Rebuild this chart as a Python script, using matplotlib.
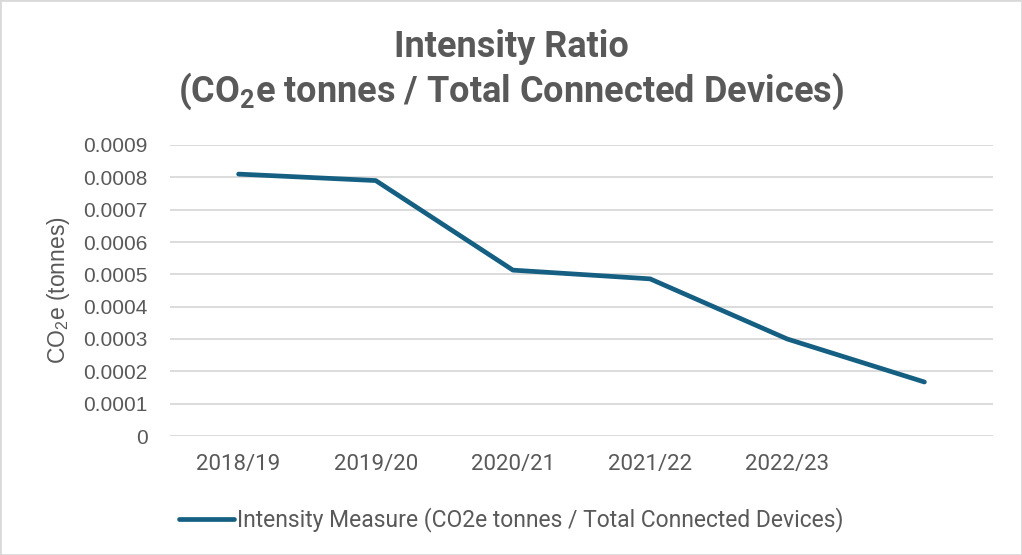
import matplotlib
matplotlib.use('Agg')
import matplotlib.pyplot as plt
from matplotlib.patches import Rectangle

years = ['2018/19', '2019/20', '2020/21', '2021/22', '2022/23', '']
intensity = [0.00081, 0.00079, 0.000513, 0.000486, 0.0003, 0.000167]
y_ticks = [0, 0.0001, 0.0002, 0.0003, 0.0004, 0.0005, 0.0006, 0.0007, 0.0008, 0.0009]
y_tick_labels = ['0', '0.0001', '0.0002', '0.0003', '0.0004', '0.0005',
                 '0.0006', '0.0007', '0.0008', '0.0009']

narrow = ['Roboto', 'DejaVu Sans']
grey = '#595959'
line_col = '#156082'

fig = plt.figure(figsize=(10.22, 5.55), dpi=100)
ax = fig.add_axes([170 / 1022, 1 - 436 / 555, 823 / 1022, (436 - 145) / 555])

x = list(range(len(years)))
line, = ax.plot(x, intensity, color=line_col, linewidth=3.4,
                solid_capstyle='round', solid_joinstyle='round',
                label='Intensity Measure (CO2e tonnes / Total Connected Devices)')

ax.set_xlim(-0.5, len(years) - 0.5)
ax.set_ylim(0, 0.0009)
ax.set_yticks(y_ticks)
ax.set_yticklabels(y_tick_labels, fontsize=15, color=grey, family='Liberation Sans')
ax.set_xticks(x)
ax.set_xticklabels(years, fontsize=16, color=grey, family=narrow)
ax.tick_params(axis='both', length=0)
ax.tick_params(axis='x', pad=13)
ax.tick_params(axis='y', pad=16)
ax.grid(axis='y', color='#d9d9d9', linewidth=1.3)
ax.set_axisbelow(True)
for s in ax.spines.values():
    s.set_visible(False)

ax.set_ylabel(r'CO$_\mathregular{2}$e (tonnes)', fontsize=16.5, color=grey,
              family='Liberation Sans', labelpad=8)

fig.text(0.5, 1 - 47 / 555, 'Intensity Ratio', ha='center', va='center',
         fontsize=26, fontweight='bold', color=grey, family=narrow)
fig.text(0.5, 1 - 91 / 555, r'(CO$_\mathregular{2}$e tonnes / Total Connected Devices)',
         ha='center', va='center', fontsize=26, fontweight='bold', color=grey,
         family=narrow)

leg = fig.legend(handles=[line], loc='center left',
                 bbox_to_anchor=(158 / 1022, 1 - 520 / 555), frameon=False,
                 handlelength=2.4, handletextpad=0.15,
                 prop={'family': narrow, 'size': 16.5})
for t in leg.get_texts():
    t.set_color(grey)

fig.patches.append(Rectangle((0, 0), 1, 1, transform=fig.transFigure,
                             fill=False, edgecolor='#d9d9d9', linewidth=2))

fig.savefig('out.png', dpi=100)
